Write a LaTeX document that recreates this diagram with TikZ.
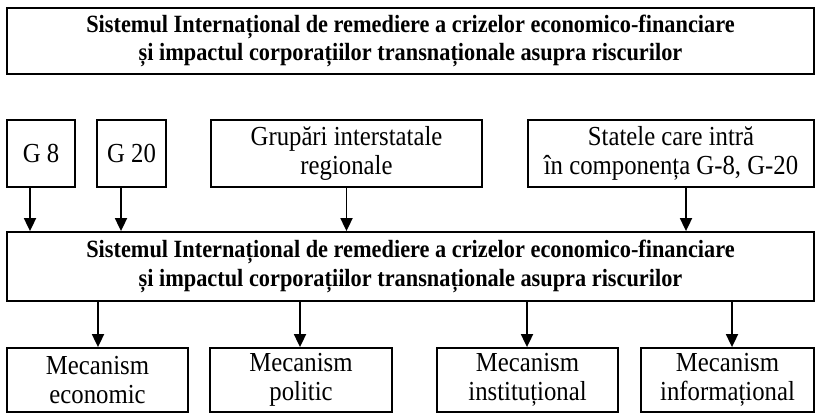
\documentclass[tikz,border=0pt]{standalone}
\usepackage{fontspec}
\setmainfont{Liberation Serif}[FakeStretch=0.9]
\usetikzlibrary{arrows.meta}
\begin{document}
\begin{tikzpicture}[x=1pt,y=-1pt,
  box/.style={draw,line width=1.8pt,rectangle,inner sep=0pt,align=center,
    font=\fontsize{27.5}{28.5}\selectfont},
  titlebox/.style={box,font=\fontsize{24.8}{28.5}\selectfont\bfseries},
  arr/.style={line width=1.8pt,-{Triangle[width=12pt,length=13pt]}}]
\fill[white] (0,0) rectangle (818,414);
\useasboundingbox (0,0) rectangle (818,414);
\node[titlebox,minimum width=807pt,minimum height=66pt] (top) at (410.5,41)
  {Sistemul Internațional de remediere a crizelor economico-financiare\\
   și impactul corporațiilor transnaționale asupra riscurilor};
\node[box,minimum width=68pt,minimum height=67pt] (g8) at (41,153.5) {G 8};
\node[box,minimum width=69pt,minimum height=67pt] (g20) at (131.5,153.5) {G 20};
\node[box,minimum width=271pt,minimum height=67pt] (grup) at (346.5,153.5)
  {Grupări interstatale\\regionale};
\node[box,minimum width=286pt,minimum height=67pt] (stat) at (671,153.5)
  {Statele care intră\\în componența G-8, G-20};
\node[titlebox,minimum width=807pt,minimum height=69pt] (mid) at (410.5,266.5)
  {Sistemul Internațional de remediere a crizelor economico-financiare\\
   și impactul corporațiilor transnaționale asupra riscurilor};
\node[box,minimum width=181pt,minimum height=64pt] (b1) at (97.5,380)
  {Mecanism\\economic};
\node[box,minimum width=182pt,minimum height=64pt] (b2) at (301,380)
  {Mecanism\\politic};
\node[box,minimum width=181pt,minimum height=64pt] (b3) at (527.5,380)
  {Mecanism\\instituțional};
\node[box,minimum width=173pt,minimum height=64pt] (b4) at (727.5,380)
  {Mecanism\\informațional};
\draw[arr] (30,0 |- g8.south) -- (30,0 |- mid.north);
\draw[arr] (121,0 |- g20.south) -- (121,0 |- mid.north);
\draw[arr] (grup.south) -- (grup.south |- mid.north);
\draw[arr] (686,0 |- stat.south) -- (686,0 |- mid.north);
\draw[arr] (98,0 |- mid.south) -- (98,0 |- b1.north);
\draw[arr] (300,0 |- mid.south) -- (300,0 |- b2.north);
\draw[arr] (527,0 |- mid.south) -- (527,0 |- b3.north);
\draw[arr] (732,0 |- mid.south) -- (732,0 |- b4.north);
\end{tikzpicture}
\end{document}
